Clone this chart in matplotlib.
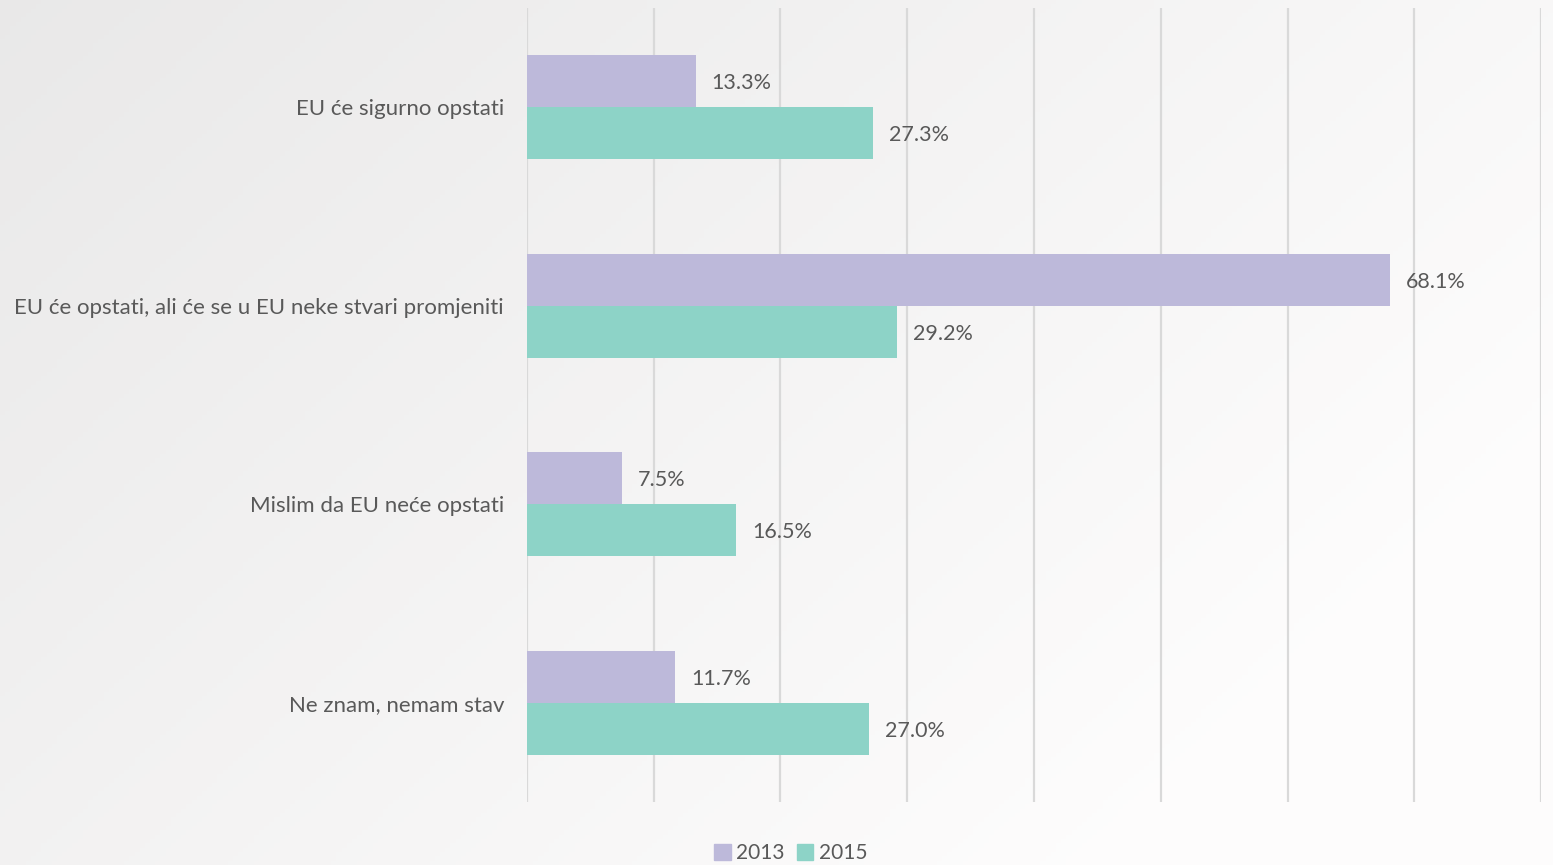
import matplotlib.pyplot as plt
import numpy as np
from matplotlib.patches import Patch

categories = ["EU će sigurno opstati",
              "EU će opstati, ali će se u EU neke stvari promjeniti",
              "Mislim da EU neće opstati",
              "Ne znam, nemam stav"]
years = ["2013", "2015"]
v2013 = [13.3, 68.1, 7.5, 11.7]
v2015 = [27.3, 29.2, 16.5, 27.0]
colors = ["#bdb9da", "#8dd3c7"]
txt = "#595959"

plt.rcParams['font.family'] = ['Lato', 'DejaVu Sans']

fig = plt.figure(figsize=(15.53, 8.65), dpi=100)

# background gradient
bg = fig.add_axes([0, 0, 1, 1], zorder=-10)
gx = np.linspace(0, 1, 300)
gy = np.linspace(0, 1, 200)
GX, GY = np.meshgrid(gx, gy)
shade = 0.915 + 0.08 * np.clip(0.75 * GX + 0.45 * GY, 0, 1)
bg.imshow(np.dstack([shade, shade * 0.997, shade * 0.997]), aspect='auto',
          extent=[0, 1, 0, 1], origin='upper')
bg.axis('off')

ax = fig.add_axes([0.3393, 0.0728, 0.9923 - 0.3393, 0.9908 - 0.0728])
ax.patch.set_alpha(0)
y = np.arange(len(categories))
h = 0.262
b1 = ax.barh(y - h / 2, v2013, height=h, color=colors[0], zorder=3)
b2 = ax.barh(y + h / 2, v2015, height=h, color=colors[1], zorder=3)
for bars, vals in ((b1, v2013), (b2, v2015)):
    for bar, v in zip(bars, vals):
        ax.text(v + 1.25, bar.get_y() + bar.get_height() / 2 + 0.01, f"{v:.1f}%",
                va='center', ha='left', fontsize=15.5, color=txt)

ax.set_xlim(0, 80)
ax.set_ylim(3.5, -0.5)
ax.set_xticks(np.arange(0, 81, 10))
ax.set_xticklabels([])
ax.set_yticks(y)
ax.set_yticklabels(categories, fontsize=16, color=txt)
ax.tick_params(length=0, pad=16.5)
ax.grid(axis='x', color='#d9d9d9', linewidth=1.6, zorder=0)
for s in ax.spines.values():
    s.set_visible(False)

handles = [Patch(color=c, label=l) for c, l in zip(colors, years)]
fig.legend(handles=handles, loc='center', bbox_to_anchor=(0.509, 0.014), ncol=2,
           frameon=False, fontsize=15, handlelength=0.8, handleheight=0.8,
           handletextpad=0.25, columnspacing=0.6, labelcolor=txt)

fig.savefig("out.png", dpi=100)
